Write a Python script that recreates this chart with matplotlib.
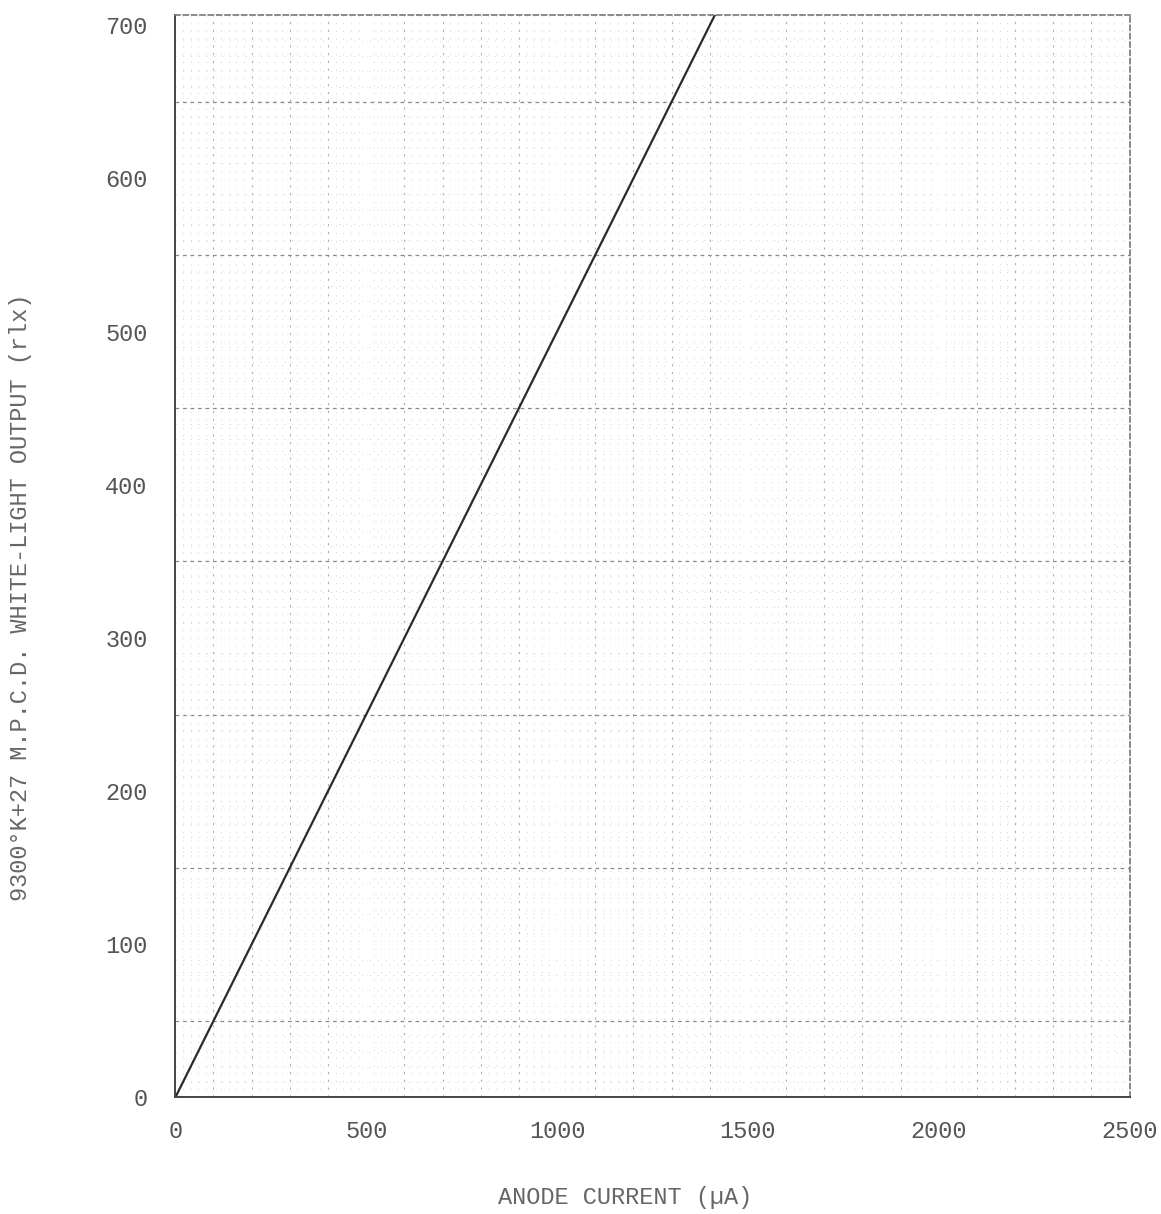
import matplotlib.pyplot as plt
from matplotlib.ticker import MultipleLocator

# values
anode_current = [0, 1420]      # uA
light_output = [0, 710]        # rlx
x_ticks = [0, 500, 1000, 1500, 2000, 2500]
y_ticks = [0, 100, 200, 300, 400, 500, 600, 700]

plt.rcParams['font.family'] = ['Liberation Mono', 'DejaVu Sans Mono']

fig = plt.figure(figsize=(11.61, 12.14), dpi=100)
ax = fig.add_axes([0.151, 0.096, 0.822, 0.892])

ax.set_xlim(0, 2500)
ax.set_ylim(0, 707)

# graph paper grid
ax.xaxis.set_minor_locator(MultipleLocator(100))
ax.yaxis.set_minor_locator(MultipleLocator(50))
ax.grid(which='minor', axis='y', color='#8a8a8a', linestyle=(0, (3, 3)), linewidth=0.9)
ax.grid(which='minor', axis='x', color='#b0b0b0', linestyle=(0, (2, 5)), linewidth=0.8)
for x in range(20, 2500, 20):
    if x % 100:
        ax.axvline(x, color='#d2d2d2', linestyle=(0, (1, 7)), linewidth=0.7)
for y in range(10, 707, 10):
    if y % 50:
        ax.axhline(y, color='#d2d2d2', linestyle=(0, (1, 7)), linewidth=0.7)

ax.plot(anode_current, light_output, color='#2a2a2a', linewidth=1.6)

ax.set_xticks(x_ticks)
ax.set_yticks(y_ticks)
ax.tick_params(which='both', length=0, labelsize=17, colors='#555555')
ax.tick_params(axis='x', pad=16)
ax.tick_params(axis='y', pad=20)

for s in ['left', 'bottom']:
    ax.spines[s].set_color('#444444')
    ax.spines[s].set_linewidth(1.4)
for s in ['top', 'right']:
    ax.spines[s].set_color('#777777')
    ax.spines[s].set_linestyle((0, (3, 2)))
    ax.spines[s].set_linewidth(1.2)

ax.set_xlabel('ANODE CURRENT (\u00b5A)', fontsize=17, color='#666666')
ax.set_ylabel('9300\u00b0K+27 M.P.C.D. WHITE-LIGHT OUTPUT (rlx)', fontsize=17,
              color='#666666')
ax.xaxis.set_label_coords(0.471, -0.082)
ax.yaxis.set_label_coords(-0.150, 0.462)

fig.savefig('out.png', dpi=100)
